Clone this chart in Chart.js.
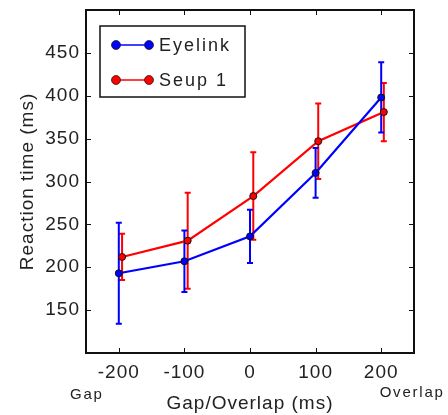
<!DOCTYPE html>
<html>
<head>
<meta charset="utf-8">
<script src="https://cdn.jsdelivr.net/npm/chart.js@4"></script>
<style>
  html, body { margin: 0; padding: 0; background: #fff; }
  #wrap { width: 448px; height: 415px; }
</style>
</head>
<body>
<div id="wrap"><canvas id="rt-chart" width="448" height="415"></canvas></div>
<script>
// values
const xEyelink = [-200, -100, 0, 100, 200];
const eyelinkRT = [193, 207, 236, 310, 398];
const eyelinkErr = [59, 36, 31, 29, 41];

const xSeup = [-195, -95, 5, 104, 204];
const seupRT = [212, 231, 283, 347, 381];
const seupErr = [27, 56, 51, 44, 34];

const xTicks = [-200, -100, 0, 100, 200];
const yTicks = [150, 200, 250, 300, 350, 400, 450];
const endLabels = ['Gap', 'Overlap'];

const FONT = '"Liberation Sans", Arial, sans-serif';
const BLUE = '#0000ff';
const RED = '#ff0000';

const toPoints = (xs, ys) => xs.map((x, i) => ({ x: x, y: ys[i] }));

// error bars, frame with inward ticks, legend box and Gap/Overlap notes
const extras = {
    id: 'extras',
    beforeDraw(chart) {
        chart.ctx.letterSpacing = '1px';
    },
    beforeDatasetsDraw(chart) {
        const { ctx, scales: { x, y } } = chart;
        const sets = [[xSeup, seupRT, seupErr, RED], [xEyelink, eyelinkRT, eyelinkErr, BLUE]];
        ctx.save();
        ctx.lineWidth = 2;
        sets.forEach(([xs, ys, es, col]) => {
            ctx.strokeStyle = col;
            xs.forEach((xv, i) => {
                const px = x.getPixelForValue(xv);
                const top = y.getPixelForValue(ys[i] + es[i]);
                const bot = y.getPixelForValue(ys[i] - es[i]);
                ctx.beginPath();
                ctx.moveTo(px, top); ctx.lineTo(px, bot);
                ctx.moveTo(px - 3, top); ctx.lineTo(px + 3, top);
                ctx.moveTo(px - 3, bot); ctx.lineTo(px + 3, bot);
                ctx.stroke();
            });
        });
        ctx.restore();
    },
    afterDraw(chart) {
        const { ctx, chartArea: a, scales: { x, y } } = chart;
        ctx.save();
        // frame
        ctx.strokeStyle = '#111';
        ctx.lineWidth = 2;
        ctx.strokeRect(a.left, a.top, a.right - a.left, a.bottom - a.top);
        // inward ticks on all four sides
        ctx.lineWidth = 1;
        ctx.beginPath();
        xTicks.forEach(v => {
            const px = Math.round(x.getPixelForValue(v)) + 0.5;
            ctx.moveTo(px, a.bottom); ctx.lineTo(px, a.bottom - 5);
            ctx.moveTo(px, a.top); ctx.lineTo(px, a.top + 5);
        });
        yTicks.forEach(v => {
            const py = Math.round(y.getPixelForValue(v)) + 0.5;
            ctx.moveTo(a.left, py); ctx.lineTo(a.left + 5, py);
            ctx.moveTo(a.right, py); ctx.lineTo(a.right - 5, py);
        });
        ctx.stroke();

        // legend
        ctx.fillStyle = '#fff';
        ctx.fillRect(100, 26, 145, 71);
        ctx.strokeStyle = '#111';
        ctx.lineWidth = 1.5;
        ctx.strokeRect(100, 26, 145, 71);
        const entries = chart.data.datasets.map(d => [d.label, d.borderColor]);
        entries.forEach(([label, col], i) => {
            const ly = 45 + i * 35;
            ctx.strokeStyle = col;
            ctx.lineWidth = 1.5;
            ctx.beginPath();
            ctx.moveTo(116, ly); ctx.lineTo(149, ly);
            ctx.stroke();
            [116, 149].forEach(cx => {
                ctx.beginPath();
                ctx.arc(cx, ly, 4.5, 0, Math.PI * 2);
                ctx.fillStyle = col;
                ctx.fill();
                ctx.strokeStyle = '#222';
                ctx.lineWidth = 0.8;
                ctx.stroke();
            });
            ctx.fillStyle = '#222';
            ctx.font = '18px ' + FONT;
            ctx.letterSpacing = '2px';
            ctx.textAlign = 'left';
            ctx.textBaseline = 'middle';
            ctx.fillText(label, 159, ly + 1);
        });

        // Gap / Overlap notes under the end ticks
        ctx.fillStyle = '#222';
        ctx.font = '15px ' + FONT;
        ctx.letterSpacing = '1.8px';
        ctx.textAlign = 'center';
        ctx.textBaseline = 'alphabetic';
        ctx.fillText(endLabels[0], x.getPixelForValue(xTicks[0]) - 32, 399);
        ctx.fillText(endLabels[1], x.getPixelForValue(xTicks[xTicks.length - 1]) + 31, 397);
        ctx.restore();
    }
};

new Chart(document.getElementById('rt-chart').getContext('2d'), {
    type: 'line',
    data: {
        datasets: [
            {
                label: 'Eyelink',
                data: toPoints(xEyelink, eyelinkRT),
                borderColor: BLUE,
                backgroundColor: BLUE,
                borderWidth: 2.2,
                pointRadius: 3.5,
                pointBorderColor: '#111',
                pointBorderWidth: 1,
                pointBackgroundColor: BLUE
            },
            {
                label: 'Seup 1',
                data: toPoints(xSeup, seupRT),
                borderColor: RED,
                backgroundColor: RED,
                borderWidth: 2.2,
                pointRadius: 3.5,
                pointBorderColor: '#111',
                pointBorderWidth: 1,
                pointBackgroundColor: RED
            }
        ]
    },
    options: {
        responsive: false,
        animation: false,
        layout: { padding: { top: 10, right: 34, left: 0, bottom: 0 } },
        plugins: { legend: { display: false }, tooltip: { enabled: false } },
        scales: {
            x: {
                type: 'linear',
                min: -250,
                max: 250,
                afterFit: s => { s.height = 62; s.paddingLeft = 0; s.paddingRight = 0; },
                afterBuildTicks: s => { s.ticks = xTicks.map(v => ({ value: v })); },
                grid: { display: false, drawTicks: false },
                border: { display: false },
                ticks: {
                    color: '#222',
                    padding: 8,
                    maxRotation: 0,
                    font: { family: FONT, size: 19 },
                    callback: v => String(v)
                },
                title: {
                    display: true,
                    text: 'Gap/Overlap (ms)',
                    color: '#222',
                    padding: { top: 0, bottom: 0 },
                    font: { family: FONT, size: 19 }
                }
            },
            y: {
                type: 'linear',
                min: 100,
                max: 500,
                afterFit: s => { s.width = 86; s.paddingTop = 0; s.paddingBottom = 0; },
                afterBuildTicks: s => { s.ticks = yTicks.map(v => ({ value: v })); },
                grid: { display: false, drawTicks: false },
                border: { display: false },
                ticks: {
                    color: '#222',
                    padding: 6,
                    font: { family: FONT, size: 19 },
                    callback: v => String(v)
                },
                title: {
                    display: true,
                    text: 'Reaction time (ms)',
                    color: '#222',
                    padding: { top: 16, bottom: 0 },
                    font: { family: FONT, size: 19 }
                }
            }
        }
    },
    plugins: [extras]
});
</script>
</body>
</html>
